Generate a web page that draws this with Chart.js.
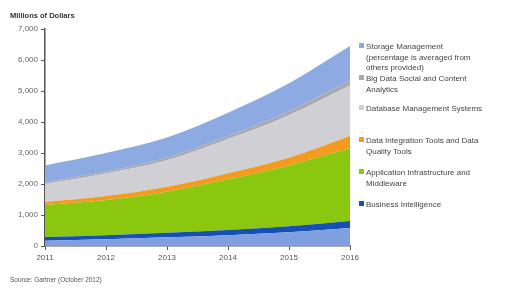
<!DOCTYPE html>
<html><head><meta charset="utf-8">
<script src="https://cdn.jsdelivr.net/npm/chart.js@4/dist/chart.umd.min.js"></script>
<style>
html,body{margin:0;padding:0;background:#fff;}
#wrap{position:relative;width:509px;height:288px;font-family:"Liberation Sans",Arial,sans-serif;}
canvas{position:absolute;left:0;top:0;}
#ytitle{position:absolute;left:10px;top:11px;font-size:7.5px;font-weight:bold;color:#333;}
#source{position:absolute;left:10px;top:276px;font-size:6.5px;color:#555;}
#legend{position:absolute;left:359px;top:0;width:148px;font-size:8px;color:#444;line-height:10.5px;}
.li{position:absolute;left:0;width:148px;white-space:nowrap;}
.sw{display:inline-block;width:5px;height:5px;margin-right:2px;vertical-align:1px;}
.ind{padding-left:7px;text-indent:-7px;}
</style></head>
<body><div id="wrap">
<canvas id="c" width="509" height="288"></canvas>
<div id="ytitle">Millions of Dollars</div>
<div id="source">Source: Gartner (October 2012)</div>
<div id="legend"></div>
</div>
<script>
const years = ["2011","2012","2013","2014","2015","2016"];
const baseOther = [170, 220, 280, 350, 440, 580];
const businessIntel = [120, 130, 150, 170, 200, 230];
const appInfra = [1030, 1130, 1320, 1630, 1960, 2340];
const dataIntegration = [100, 130, 160, 200, 250, 400];
const databaseMgmt = [580, 730, 860, 1100, 1370, 1630];
const bigData = [50, 60, 80, 100, 130, 170];
const storageMgmt = [550, 600, 650, 750, 900, 1100];

const seriesNames = [
  "Other",
  "Business Intelligence",
  "Application Infrastructure and Middleware",
  "Data Integration Tools and Data Quality Tools",
  "Database Management Systems",
  "Big Data Social and Content Analytics",
  "Storage Management (percentage is averaged from others provided)"
];
// legend line breaks (as in the reference)
const legendLines = [
  ["Other"],
  ["Business Intelligence"],
  ["Application Infrastructure and", "Middleware"],
  ["Data Integration Tools and Data", "Quality Tools"],
  ["Database Management Systems"],
  ["Big Data Social and Content", "Analytics"],
  ["Storage Management", "(percentage is averaged from", "others provided)"]
];
const seriesData = [baseOther, businessIntel, appInfra, dataIntegration, databaseMgmt, bigData, storageMgmt];
const colors = ["#7f9fe0", "#1650b4", "#8cc710", "#f39a1f", "#d0d0d4", "#a9a9b2", "#8eaae3"];

const datasets = seriesData.map((d, i) => ({
  label: seriesNames[i],
  data: d,
  backgroundColor: colors[i],
  borderColor: colors[i],
  borderWidth: 0,
  pointRadius: 0,
  fill: i === 0 ? 'origin' : '-1',
  cubicInterpolationMode: 'monotone'
}));

new Chart(document.getElementById('c'), {
  type: 'line',
  data: { labels: years, datasets },
  options: {
    responsive: false,
    animation: false,
    layout: { padding: { top: 29, right: 159, bottom: 0, left: 0 } },
    plugins: { legend: { display: false }, tooltip: { enabled: false } },
    scales: {
      x: {
        grid: { display: true, drawOnChartArea: false, drawTicks: true, tickLength: 4, color: '#555' },
        border: { color: '#555', width: 1.5 },
        ticks: { font: { size: 8, family: 'Liberation Sans' }, color: '#555', padding: 3, maxRotation: 0 },
        afterFit: s => { s.height = 42; }
      },
      y: {
        stacked: true,
        min: 0, max: 7000,
        grid: { display: true, drawOnChartArea: false, drawTicks: true, tickLength: 4, color: '#555' },
        border: { color: '#555', width: 1.5 },
        ticks: { stepSize: 1000, font: { size: 8, family: 'Liberation Sans' }, color: '#666', padding: 3 },
        afterFit: s => { s.width = 45; }
      }
    }
  }
});

const legendItems = [
  { i: 6, top: 42 },
  { i: 5, top: 74 },
  { i: 4, top: 104 },
  { i: 3, top: 136 },
  { i: 2, top: 168 },
  { i: 1, top: 200 }
];
const lg = document.getElementById('legend');
legendItems.forEach(it => {
  const div = document.createElement('div');
  div.className = 'li ind';
  div.style.top = it.top + 'px';
  div.innerHTML = '<span class="sw" style="background:' + colors[it.i] + '"></span>' + legendLines[it.i].join('<br>');
  lg.appendChild(div);
});
</script>
</body></html>
